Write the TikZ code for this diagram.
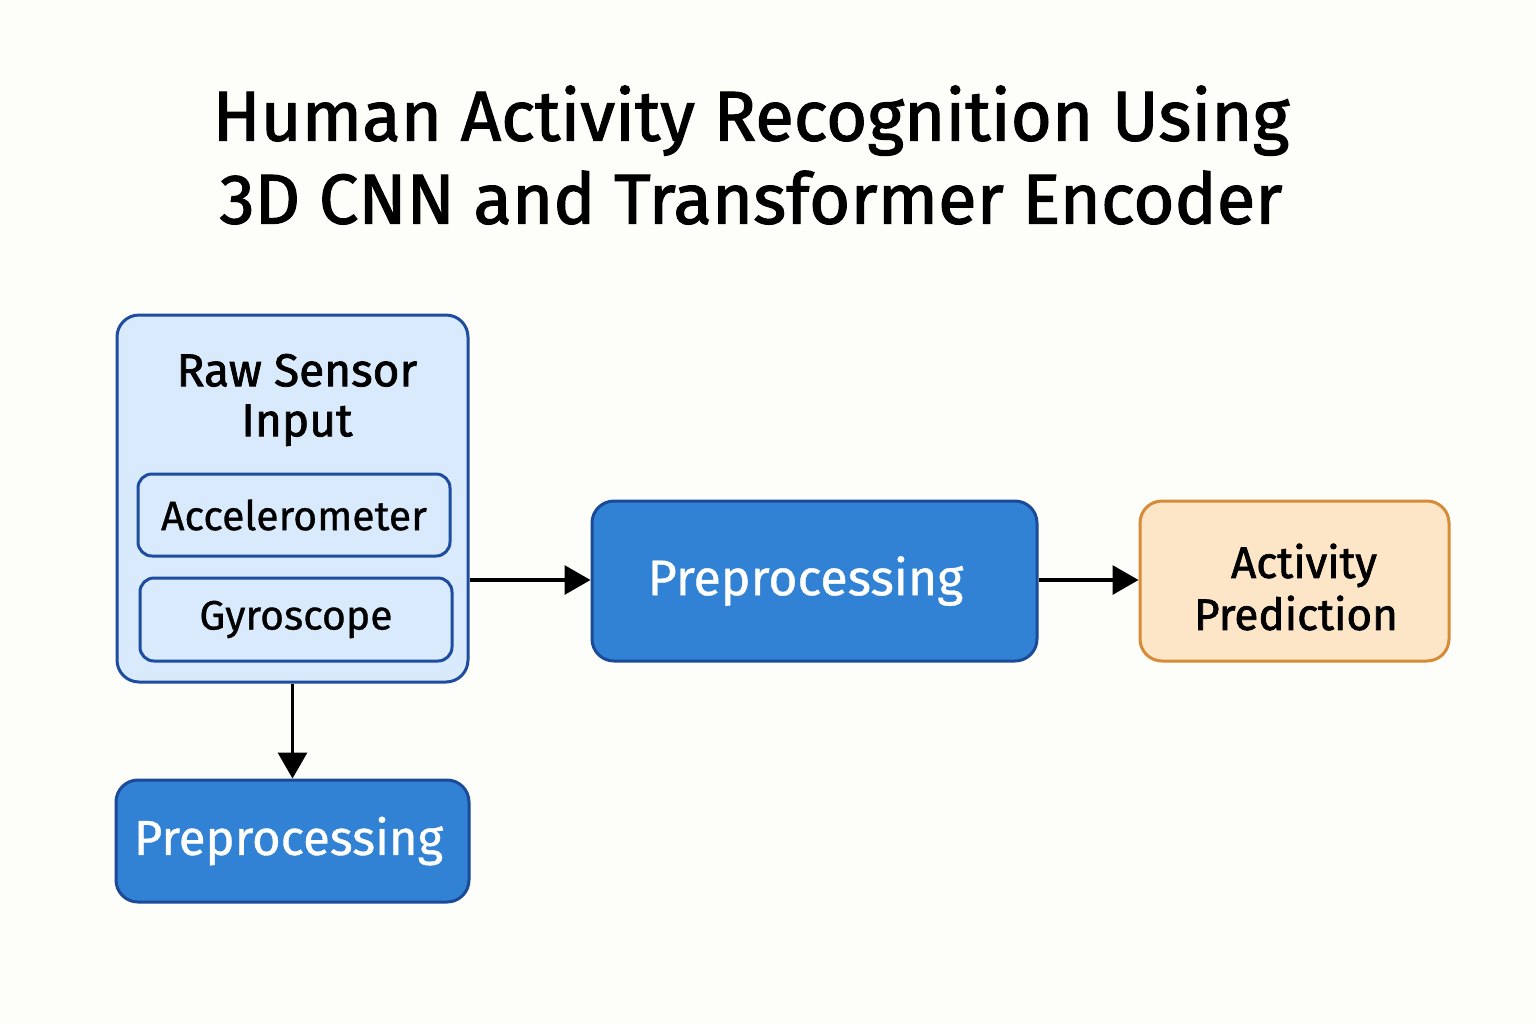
\documentclass[tikz,border=0pt]{standalone}
\usepackage{fontspec}
\setmainfont{Fira Sans}
\newfontfamily\medfont{Fira Sans}[FakeBold=1.6]
\newfontfamily\semifont{Fira Sans}[FakeBold=0.8]
\usetikzlibrary{arrows.meta}
\definecolor{bgc}{HTML}{FDFDFA}
\definecolor{lbfill}{HTML}{D8EAFC}
\definecolor{lbdraw}{HTML}{1E4DA0}
\definecolor{dbfill}{HTML}{3182D4}
\definecolor{dbdraw}{HTML}{1A4A98}
\definecolor{orfill}{HTML}{FDE5C8}
\definecolor{ordraw}{HTML}{D68B36}
\tikzset{
  box/.style={rectangle, rounded corners=#1, line width=1.5pt, inner sep=0pt, align=center},
  lightbox/.style={box=11pt, fill=lbfill, draw=lbdraw},
  subbox/.style={box=7pt, fill=lbfill, draw=lbdraw, font=\semifont\fontsize{20.5pt}{24pt}\selectfont},
  procbox/.style={box=11pt, fill=dbfill, draw=dbdraw, text=white, font=\semifont\fontsize{25pt}{30pt}\selectfont},
  outbox/.style={box=11pt, fill=orfill, draw=ordraw},
  conn/.style={-{Triangle[length=13pt,width=14.5pt]}, line width=1.6pt, black}
}
\begin{document}
\begin{tikzpicture}[x=0.5pt,y=-0.5pt]
\useasboundingbox[fill=bgc] (0,0) rectangle (1536,1024);
\node[font=\medfont\fontsize{35.3pt}{41.5pt}\selectfont, align=center] (title) at (751,155)
  {Human Activity Recognition Using\\ 3D CNN and Transformer Encoder};
\node[lightbox, minimum width=175.5pt, minimum height=183.5pt] (raw) at (292.5,498.5) {};
\node[font=\medfont\fontsize{23pt}{25pt}\selectfont, align=center] (rawlbl) at (297,400) {Raw Sensor\\Input};
\node[subbox, minimum width=156pt, minimum height=41pt] (acc) at (294,515) {Accelerometer};
\node[subbox, minimum width=156pt, minimum height=41.5pt] (gyr) at (296,619.5) {Gyroscope};
\node[procbox, minimum width=222.5pt, minimum height=80pt] (pre) at (814.5,581) {\hspace*{-9pt}Preprocessing};
\node[outbox, minimum width=154.5pt, minimum height=80pt] (act) at (1294.5,581) {};
\node[font=\medfont\fontsize{22pt}{26pt}\selectfont, align=center] (actlbl) at (1296,587) {\hspace*{8pt}Activity\\Prediction};
\node[procbox, font=\semifont\fontsize{24.5pt}{30pt}\selectfont, minimum width=176.5pt, minimum height=61pt] (pre2) at (292.5,841) {\hspace*{-4pt}Preprocessing};
\draw[conn] ([yshift=0.5pt]raw.east |- pre.west) -- ([yshift=0.5pt]pre.west);
\draw[conn] ([yshift=0.5pt]pre.east) -- ([yshift=0.5pt]act.west);
\draw[conn] (raw.south) -- (pre2.north);
\end{tikzpicture}
\end{document}
